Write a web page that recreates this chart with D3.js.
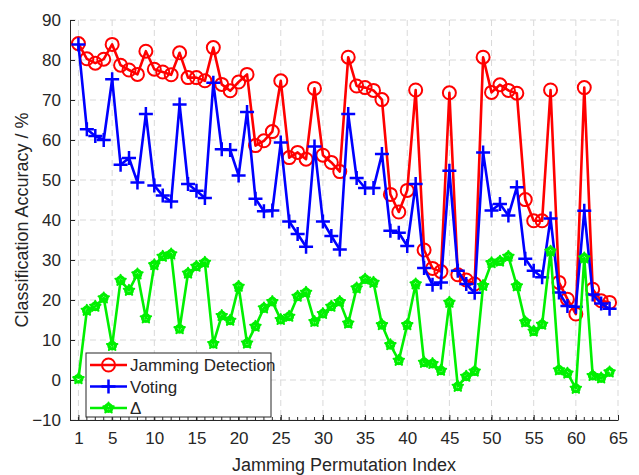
<!DOCTYPE html>
<html>
<head>
<meta charset="utf-8">
<script src="https://cdn.jsdelivr.net/npm/d3@7"></script>
<style>
  body { margin: 0; background: #fff; }
  text { font-family: "Liberation Sans", Arial, sans-serif; fill: #262626; }
</style>
</head>
<body>
<div id="chart"></div>
<script>
// values, index 1..64
const jamming = [84.1, 80.3, 79.2, 80.2, 83.9, 78.7, 77.5, 76.4, 82.2, 77.7, 77.0, 76.3, 81.8, 75.6, 75.6, 74.8,
  83.1, 73.9, 72.3, 74.5, 76.4, 58.6, 59.8, 62.1, 74.8, 55.6, 56.9, 55.2, 72.9, 56.2, 54.4, 52.1,
  80.7, 73.5, 73.1, 72.4, 70.1, 46.4, 42.0, 47.4, 72.5, 32.5, 27.9, 27.1, 71.8, 26.3, 25.0, 24.0,
  80.7, 71.9, 73.8, 72.4, 71.7, 45.1, 39.8, 39.8, 72.5, 24.4, 20.2, 16.5, 73.1, 22.7, 19.8, 19.4];
const voting = [83.9, 62.7, 61.0, 60.0, 75.2, 53.8, 55.5, 49.4, 66.5, 48.6, 46.1, 44.6, 68.9, 49.0, 47.3, 45.5,
  74.3, 57.7, 57.5, 51.1, 67.0, 45.3, 42.2, 42.4, 59.4, 39.6, 36.5, 33.3, 58.4, 39.6, 36.0, 32.6,
  66.5, 50.5, 48.0, 48.0, 56.5, 37.3, 36.8, 33.5, 49.0, 28.0, 23.8, 24.4, 52.3, 27.3, 24.0, 21.8,
  56.9, 42.4, 44.0, 41.1, 48.2, 30.3, 27.3, 25.7, 40.4, 21.9, 18.5, 18.3, 42.3, 21.4, 19.1, 17.8];
const delta = [0.3, 17.4, 18.4, 20.5, 8.6, 24.9, 22.4, 26.5, 15.5, 28.8, 30.9, 31.5, 12.8, 26.7, 28.4, 29.4,
  9.1, 16.1, 14.9, 23.4, 9.2, 13.4, 18.0, 19.6, 15.1, 15.9, 20.9, 21.9, 14.6, 16.6, 18.4, 19.6,
  14.2, 23.0, 25.2, 24.4, 13.8, 8.8, 4.9, 13.8, 24.0, 4.4, 4.1, 2.4, 19.4, -1.6, 0.9, 2.2,
  23.6, 29.3, 29.7, 30.9, 23.5, 14.5, 12.2, 13.9, 32.2, 2.5, 1.7, -2.1, 30.5, 1.1, 0.5, 2.0];

const xTicks = [1, 5, 10, 15, 20, 25, 30, 35, 40, 45, 50, 55, 60, 65];
const yTicks = [-10, 0, 10, 20, 30, 40, 50, 60, 70, 80, 90];
const seriesNames = ['Jamming Detection', 'Voting', '\u0394'];

const width = 639, height = 475;
const margin = { top: 20, right: 21, bottom: 55, left: 70 };
const w = width - margin.left - margin.right;
const h = height - margin.top - margin.bottom;

const svg = d3.select('#chart').append('svg')
  .attr('width', width)
  .attr('height', height);

const g = svg.append('g')
  .attr('transform', 'translate(' + margin.left + ',' + margin.top + ')');

const x = d3.scaleLinear().domain([0, 65]).range([0, w]);
const y = d3.scaleLinear().domain([-10, 90]).range([h, 0]);

// dashed grid
g.selectAll('.gx').data(xTicks).enter().append('line')
  .attr('x1', d => x(d)).attr('x2', d => x(d))
  .attr('y1', 0).attr('y2', h)
  .attr('stroke', '#d9d9d9').attr('stroke-width', 1).attr('stroke-dasharray', '6,4');
g.selectAll('.gy').data(yTicks).enter().append('line')
  .attr('x1', 0).attr('x2', w)
  .attr('y1', d => y(d)).attr('y2', d => y(d))
  .attr('stroke', '#d9d9d9').attr('stroke-width', 1).attr('stroke-dasharray', '6,4');

// axes with inward ticks
const xAxis = g.append('g')
  .attr('transform', 'translate(0,' + h + ')')
  .call(d3.axisBottom(x).tickValues(xTicks).tickSize(-5).tickPadding(12).tickSizeOuter(0));
xAxis.append('g').selectAll('line').data(d3.range(1, 65)).enter().append('line')
  .attr('x1', d => x(d)).attr('x2', d => x(d))
  .attr('y1', 0).attr('y2', -3)
  .attr('stroke', '#262626');

const yAxis = g.append('g')
  .call(d3.axisLeft(y).tickValues(yTicks).tickSize(-5).tickPadding(9).tickSizeOuter(0));

[xAxis, yAxis].forEach(a => {
  a.select('.domain').attr('stroke', '#262626').attr('stroke-width', 1);
  a.selectAll('.tick line').attr('stroke', '#262626');
  a.selectAll('.tick text').style('font-size', '17px').attr('fill', '#262626');
});

svg.append('text')
  .attr('x', margin.left + w / 2).attr('y', 471)
  .attr('text-anchor', 'middle')
  .style('font-size', '18px')
  .text('Jamming Permutation Index');

svg.append('text')
  .attr('transform', 'translate(28,' + (margin.top + h / 2) + ') rotate(-90)')
  .attr('text-anchor', 'middle')
  .style('font-size', '18px')
  .text('Classification Accuracy / %');

// series
const idx = d3.range(1, 65);
const series = [
  { name: seriesNames[0], values: jamming, color: '#ff0000', marker: 'circle' },
  { name: seriesNames[1], values: voting, color: '#0000ff', marker: 'plus' },
  { name: seriesNames[2], values: delta, color: '#00f000', marker: 'hex' }
];

const line = d3.line().x((d, i) => x(idx[i])).y(d => y(d));

function drawMarker(sel, type, color) {
  if (type === 'circle') {
    sel.append('circle').attr('r', 6.5)
      .attr('fill', 'none').attr('stroke', color).attr('stroke-width', 2);
  } else if (type === 'plus') {
    sel.append('path').attr('d', 'M-7,0H7M0,-7V7')
      .attr('stroke', color).attr('stroke-width', 2.5);
  } else {
    sel.append('path').attr('d', d3.symbol(d3.symbolStar, 34)())
      .attr('fill', 'none').attr('stroke', color).attr('stroke-width', 2)
      .attr('stroke-linejoin', 'round');
    sel.append('circle').attr('r', 3.8)
      .attr('fill', 'none').attr('stroke', color).attr('stroke-width', 2.2);
  }
}

series.forEach(s => {
  g.append('path').datum(s.values)
    .attr('d', line)
    .attr('fill', 'none')
    .attr('stroke', s.color)
    .attr('stroke-width', 2.6)
    .attr('stroke-linejoin', 'round');
  g.selectAll(null).data(s.values).enter().append('g')
    .attr('transform', (d, i) => 'translate(' + x(idx[i]) + ',' + y(d) + ')')
    .each(function () { drawMarker(d3.select(this), s.marker, s.color); });
});

// legend
const lg = svg.append('g').attr('transform', 'translate(86,353)');
lg.append('rect').attr('width', 185).attr('height', 64)
  .attr('fill', '#fff').attr('stroke', '#262626').attr('stroke-width', 1);
series.forEach((s, i) => {
  const row = lg.append('g').attr('transform', 'translate(0,' + (12 + i * 21.5) + ')');
  row.append('line').attr('x1', 4).attr('x2', 41).attr('y1', 0).attr('y2', 0)
    .attr('stroke', s.color).attr('stroke-width', 2.6);
  const m = row.append('g').attr('transform', 'translate(22.5,0)');
  drawMarker(m, s.marker, s.color);
  row.append('text').attr('x', 44).attr('y', 6)
    .style('font-size', '17px')
    .text(s.name);
});
</script>
</body>
</html>
